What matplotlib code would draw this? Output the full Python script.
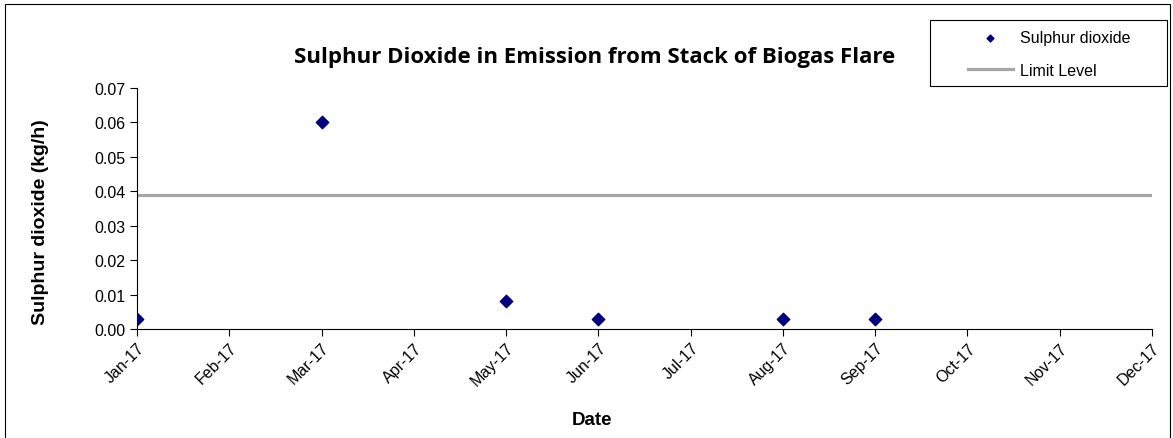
import numpy as np
import matplotlib.pyplot as plt
from matplotlib.patches import Rectangle

# ---- data ----
months = ['Jan-17', 'Feb-17', 'Mar-17', 'Apr-17', 'May-17', 'Jun-17',
          'Jul-17', 'Aug-17', 'Sep-17', 'Oct-17', 'Nov-17', 'Dec-17']
sample_months = ['Jan-17', 'Mar-17', 'May-17', 'Jun-17', 'Aug-17', 'Sep-17']
so2_values = [0.003, 0.060, 0.008, 0.003, 0.003, 0.003]
limit_level = 0.039

plt.rcParams['font.family'] = ['Liberation Sans', 'DejaVu Sans']

W, H = 1173, 439
fig = plt.figure(figsize=(W / 100, H / 100), dpi=100)

# outer chart frame
fig.patches.append(Rectangle((5 / W, -0.05), 1165 / W, 1 - 5 / H + 0.05,
                             transform=fig.transFigure, fill=False,
                             edgecolor='black', linewidth=0.8))

ax = fig.add_axes([137 / W, 1 - 330 / H, (1152 - 137) / W, (330 - 89) / H])

x_pos = [months.index(m) for m in sample_months]
ax.scatter(x_pos, so2_values, marker='D', s=40, color='#000080',
           zorder=3, label='Sulphur dioxide')
ax.axhline(limit_level, color='#A6A6A6', linewidth=2.3, label='Limit Level', zorder=2)

ax.set_xlim(0, len(months) - 1)
ax.set_ylim(0, 0.07)
ax.set_xticks(range(len(months)))
ax.set_xticklabels(months, rotation=45, ha='right', rotation_mode='anchor', fontsize=11.5)
ax.set_yticks(np.arange(0, 0.0701, 0.01))
ax.set_yticklabels([f'{v:.2f}' for v in np.arange(0, 0.0701, 0.01)], fontsize=11.5)
ax.tick_params(direction='out', length=5, width=0.8, color='black')
ax.tick_params(axis='x', pad=3)
for s in ['top', 'right']:
    ax.spines[s].set_visible(False)
for s in ['left', 'bottom']:
    ax.spines[s].set_linewidth(0.8)

# axis titles placed like the original
fig.text(41 / W, 1 - 222 / H, 'Sulphur dioxide (kg/h)', rotation=90,
         ha='center', va='center', fontsize=14, fontweight='bold')
fig.text(592 / W, 1 - 421 / H, 'Date', ha='center', va='center',
         fontsize=13.5, fontweight='bold')

fig.text(595 / W, 1 - 58 / H, 'Sulphur Dioxide in Emission from Stack of Biogas Flare',
         ha='center', va='center', fontsize=16, fontweight='bold', family='Open Sans')

# legend box
fig.patches.append(Rectangle((930 / W, 1 - 87 / H), 237 / W, 66 / H,
                             transform=fig.transFigure, fill=False,
                             edgecolor='black', linewidth=0.8))
leg = ax.legend(loc='center left', bbox_to_anchor=(960 / W, 1 - 55 / H),
                bbox_transform=fig.transFigure, fontsize=11.5, frameon=False,
                handlelength=2.8, handletextpad=0.45, borderpad=0.0,
                labelspacing=1.1, scatterpoints=1, markerscale=0.55)

fig.savefig('out.png', dpi=100)
